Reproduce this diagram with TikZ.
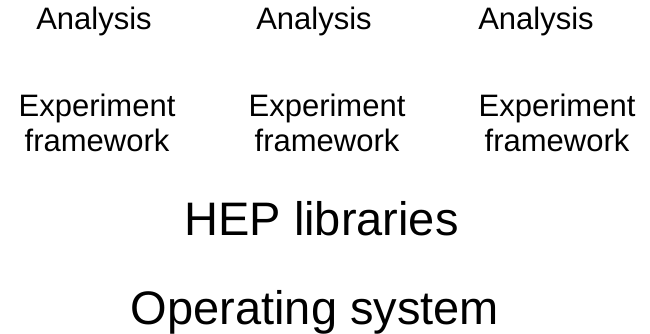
\documentclass[tikz,border=0pt]{standalone}
\usepackage{fontspec}
\setmainfont{Liberation Sans}

\begin{document}
\begin{tikzpicture}[x=1pt,y=-1pt,every node/.style={
	inner sep=0
	,anchor=base
	,align=center
	,font=\fontsize{31}{35}\selectfont
}]

\useasboundingbox (0,0) rectangle (650,334);

\foreach \i/\xa/\xe in {1/94/97,2/314/327,3/536/557}{
	\node(ana\i) at(\xa,30) {Analysis};
	\node(exp\i) at(\xe,151.7) {Experiment\\framework};
}

\node[font=\fontsize{47}{54}\selectfont](hep) at(321.5,235) {HEP libraries};
\node[font=\fontsize{47}{54}\selectfont](os) at(315,324) {Operating system};

\end{tikzpicture}
\end{document}
